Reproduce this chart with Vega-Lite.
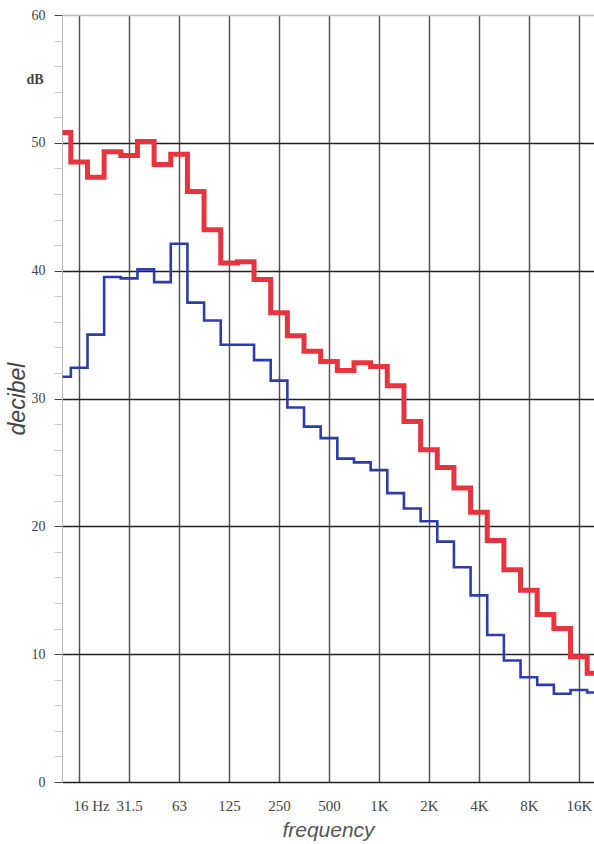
{
  "$schema": "https://vega.github.io/schema/vega-lite/v6.json",
  "width": 532,
  "height": 767,
  "autosize": "none",
  "padding": {"left": 62, "top": 15, "right": 0, "bottom": 62},
  "background": "white",
  "config": {"view": {"stroke": null}},
  "data": {
    "values": [
      {"band": -1, "freq": "12.5", "series": "upper", "db": 50.8},
      {"band": 0, "freq": "16", "series": "upper", "db": 48.5},
      {"band": 1, "freq": "20", "series": "upper", "db": 47.3},
      {"band": 2, "freq": "25", "series": "upper", "db": 49.3},
      {"band": 3, "freq": "31.5", "series": "upper", "db": 49.0},
      {"band": 4, "freq": "40", "series": "upper", "db": 50.1},
      {"band": 5, "freq": "50", "series": "upper", "db": 48.3},
      {"band": 6, "freq": "63", "series": "upper", "db": 49.1},
      {"band": 7, "freq": "80", "series": "upper", "db": 46.2},
      {"band": 8, "freq": "100", "series": "upper", "db": 43.2},
      {"band": 9, "freq": "125", "series": "upper", "db": 40.6},
      {"band": 10, "freq": "160", "series": "upper", "db": 40.7},
      {"band": 11, "freq": "200", "series": "upper", "db": 39.3},
      {"band": 12, "freq": "250", "series": "upper", "db": 36.7},
      {"band": 13, "freq": "315", "series": "upper", "db": 34.9},
      {"band": 14, "freq": "400", "series": "upper", "db": 33.7},
      {"band": 15, "freq": "500", "series": "upper", "db": 32.9},
      {"band": 16, "freq": "630", "series": "upper", "db": 32.2},
      {"band": 17, "freq": "800", "series": "upper", "db": 32.8},
      {"band": 18, "freq": "1000", "series": "upper", "db": 32.5},
      {"band": 19, "freq": "1250", "series": "upper", "db": 31.0},
      {"band": 20, "freq": "1600", "series": "upper", "db": 28.2},
      {"band": 21, "freq": "2000", "series": "upper", "db": 26.0},
      {"band": 22, "freq": "2500", "series": "upper", "db": 24.6},
      {"band": 23, "freq": "3150", "series": "upper", "db": 23.0},
      {"band": 24, "freq": "4000", "series": "upper", "db": 21.1},
      {"band": 25, "freq": "5000", "series": "upper", "db": 18.9},
      {"band": 26, "freq": "6300", "series": "upper", "db": 16.6},
      {"band": 27, "freq": "8000", "series": "upper", "db": 15.0},
      {"band": 28, "freq": "10000", "series": "upper", "db": 13.1},
      {"band": 29, "freq": "12500", "series": "upper", "db": 12.0},
      {"band": 30, "freq": "16000", "series": "upper", "db": 9.8},
      {"band": 31, "freq": "20000", "series": "upper", "db": 8.5},
      {"band": -1, "freq": "12.5", "series": "lower", "db": 31.7},
      {"band": 0, "freq": "16", "series": "lower", "db": 32.4},
      {"band": 1, "freq": "20", "series": "lower", "db": 35.0},
      {"band": 2, "freq": "25", "series": "lower", "db": 39.5},
      {"band": 3, "freq": "31.5", "series": "lower", "db": 39.4},
      {"band": 4, "freq": "40", "series": "lower", "db": 40.1},
      {"band": 5, "freq": "50", "series": "lower", "db": 39.1},
      {"band": 6, "freq": "63", "series": "lower", "db": 42.1},
      {"band": 7, "freq": "80", "series": "lower", "db": 37.5},
      {"band": 8, "freq": "100", "series": "lower", "db": 36.1},
      {"band": 9, "freq": "125", "series": "lower", "db": 34.2},
      {"band": 10, "freq": "160", "series": "lower", "db": 34.2},
      {"band": 11, "freq": "200", "series": "lower", "db": 33.0},
      {"band": 12, "freq": "250", "series": "lower", "db": 31.4},
      {"band": 13, "freq": "315", "series": "lower", "db": 29.3},
      {"band": 14, "freq": "400", "series": "lower", "db": 27.8},
      {"band": 15, "freq": "500", "series": "lower", "db": 26.9},
      {"band": 16, "freq": "630", "series": "lower", "db": 25.3},
      {"band": 17, "freq": "800", "series": "lower", "db": 25.0},
      {"band": 18, "freq": "1000", "series": "lower", "db": 24.4},
      {"band": 19, "freq": "1250", "series": "lower", "db": 22.6},
      {"band": 20, "freq": "1600", "series": "lower", "db": 21.4},
      {"band": 21, "freq": "2000", "series": "lower", "db": 20.4},
      {"band": 22, "freq": "2500", "series": "lower", "db": 18.8},
      {"band": 23, "freq": "3150", "series": "lower", "db": 16.8},
      {"band": 24, "freq": "4000", "series": "lower", "db": 14.6},
      {"band": 25, "freq": "5000", "series": "lower", "db": 11.5},
      {"band": 26, "freq": "6300", "series": "lower", "db": 9.5},
      {"band": 27, "freq": "8000", "series": "lower", "db": 8.2},
      {"band": 28, "freq": "10000", "series": "lower", "db": 7.6},
      {"band": 29, "freq": "12500", "series": "lower", "db": 6.9},
      {"band": 30, "freq": "16000", "series": "lower", "db": 7.2},
      {"band": 31, "freq": "20000", "series": "lower", "db": 7.0}
    ]
  },
  "layer": [
    {
      "transform": [{"filter": "datum.series == 'upper'"}],
      "mark": {"type": "line", "interpolate": "step", "clip": true, "strokeWidth": 5, "color": "#e8343f"},
      "encoding": {
        "x": {
          "field": "band",
          "type": "quantitative",
          "scale": {"domain": [-1.03, 30.91], "nice": false, "zero": false},
          "axis": {
            "values": [0, 3, 6, 9, 12, 15, 18, 21, 24, 27, 30],
            "tickCount": 100,
            "labelExpr": "['16 Hz','31.5','63','125','250','500','1K','2K','4K','8K','16K'][round(datum.value/3)]",
            "labelOverlap": false,
            "labelFlush": false,
            "labelBound": false,
            "labelFont": "Liberation Serif",
            "labelFontSize": 15,
            "labelColor": "#444",
            "labelPadding": 16,
            "labelOffset": {"condition": {"test": "datum.value == 0", "value": 12}, "value": 0},
            "ticks": false,
            "domain": false,
            "grid": true,
            "gridColor": "#555",
            "gridWidth": 1.5,
            "title": "frequency",
            "titleFont": "Liberation Sans",
            "titleFontStyle": "italic",
            "titleFontWeight": "normal",
            "titleFontSize": 21,
            "titleColor": "#555",
            "titlePadding": 6
          }
        },
        "y": {
          "field": "db",
          "type": "quantitative",
          "scale": {"domain": [0, 60], "nice": false},
          "axis": {
            "values": [0, 2, 4, 6, 8, 10, 12, 14, 16, 18, 20, 22, 24, 26, 28, 30, 32, 34, 36, 38, 40, 42, 44, 46, 48, 50, 52, 54, 56, 58, 60],
            "tickCount": 100,
            "format": "d",
            "labelExpr": "datum.value % 10 == 0 ? datum.label : ''",
            "labelFont": "Liberation Serif",
            "labelFontSize": 14,
            "labelColor": "#444",
            "labelPadding": 9,
            "labelOverlap": false,
            "labelFlush": false,
            "tickSize": 8,
            "tickColor": {"condition": {"test": "datum.value % 10 == 0", "value": "#444"}, "value": "#cccccc"},
            "domainColor": "#bbbbbb",
            "grid": true,
            "gridColor": {"condition": {"test": "datum.value == 60", "value": "#bbbbbb"}, "value": "#222222"},
            "gridOpacity": {"condition": {"test": "datum.value % 10 == 0", "value": 1}, "value": 0},
            "gridWidth": 1.3,
            "title": "decibel",
            "titleFont": "Liberation Sans",
            "titleFontStyle": "italic",
            "titleFontWeight": "normal",
            "titleFontSize": 23,
            "titleColor": "#444",
            "titlePadding": 2
          }
        }
      }
    },
    {
      "transform": [{"filter": "datum.series == 'lower'"}],
      "mark": {"type": "line", "interpolate": "step", "clip": true, "strokeWidth": 2.6, "color": "#2b3bb0"},
      "encoding": {
        "x": {"field": "band", "type": "quantitative"},
        "y": {"field": "db", "type": "quantitative"}
      }
    },
    {
      "data": {"values": [{"label": "dB"}]},
      "mark": {"type": "text", "font": "Liberation Serif", "fontWeight": "bold", "fontSize": 14, "color": "#444", "align": "center", "baseline": "middle"},
      "encoding": {
        "x": {"datum": -2.65, "type": "quantitative"},
        "y": {"datum": 54.9, "type": "quantitative"},
        "text": {"field": "label"}
      }
    }
  ]
}
